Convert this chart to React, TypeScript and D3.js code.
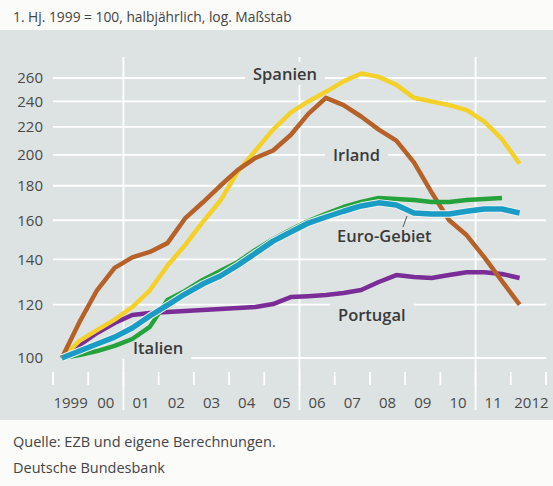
import React, { useEffect, useRef } from 'react';
import * as d3 from 'd3';

// half-year periods, 1. Hj. 1999 … 1. Hj. 2012
const periods = [
  '1999-1', '1999-2', '2000-1', '2000-2', '2001-1', '2001-2', '2002-1', '2002-2', '2003-1',
  '2003-2', '2004-1', '2004-2', '2005-1', '2005-2', '2006-1', '2006-2', '2007-1', '2007-2',
  '2008-1', '2008-2', '2009-1', '2009-2', '2010-1', '2010-2', '2011-1', '2011-2', '2012-1'
];

const spanien = [100, 106, 110, 114, 119, 126, 137, 147, 159, 171, 189, 203, 218, 231, 240, 248, 257, 264, 261, 254, 243, 240, 237, 233, 224, 211, 194];
const irland = [100, 113, 126, 136, 141, 143.6, 148, 161, 170, 180, 190, 198, 203, 214, 230, 243, 237, 228, 218, 210, 195, 176, 160, 152, 141, 130, 120];
const euroGebiet = [100, 102.4, 104.9, 107.4, 110.8, 115.4, 119.8, 124.4, 128.7, 132.3, 137.3, 143, 149, 153.7, 158.5, 161.8, 165, 168, 169.8, 168.6, 164, 163.5, 163.5, 165, 166.3, 166.3, 164];
const italien = [100, 101, 102.4, 104.2, 106.7, 111.2, 121.9, 125.7, 130.5, 134.6, 138.8, 144.6, 150, 154.9, 159.6, 163.5, 167.4, 170.3, 172.6, 172, 171.4, 170.3, 170.3, 171.4, 172, 172.6];
const portugal = [100, 104.5, 108.9, 112.7, 115.8, 116.6, 117, 117.4, 117.8, 118.2, 118.6, 119, 120.2, 123.1, 123.5, 124, 124.8, 126.1, 129.6, 132.7, 131.8, 131.4, 132.7, 134, 134, 133.2, 131.4];

const yTicks = [100, 120, 140, 160, 180, 200, 220, 240, 260];
const xLabels = ['1999', '00', '01', '02', '03', '04', '05', '06', '07', '08', '09', '10', '11', '2012'];

const series = [
  { name: 'Portugal', values: portugal, color: '#7a2d96', width: 4.5 },
  { name: 'Spanien', values: spanien, color: '#f4d12a', width: 4.5 },
  { name: 'Irland', values: irland, color: '#b6602a', width: 4.5 },
  { name: 'Italien', values: italien, color: '#25a23c', width: 4.5 },
  { name: 'Euro-Gebiet', values: euroGebiet, color: '#1b9cc4', width: 5.5 }
];

const labels = [
  { text: 'Spanien', x: 253, y: 74, padL: 8 },
  { text: 'Irland', x: 333, y: 155, padL: 8 },
  { text: 'Euro-Gebiet', x: 337, y: 236, padL: 8 },
  { text: 'Portugal', x: 338, y: 315, padL: 8 },
  { text: 'Italien', x: 133, y: 348, padL: 80 }
];

const W = 553;
const H = 486;
const panelColor = '#dde3e2';
const font = '"Open Sans", "Noto Sans", sans-serif';

const App: React.FC = () => {
  const svgRef = useRef<SVGSVGElement>(null);

  useEffect(() => {
    if (!svgRef.current) return;
    const svg = d3.select(svgRef.current);
    svg.selectAll('*').remove();

    const x = d3.scaleLinear().domain([1999, 2013]).range([53, 546]);
    const y = d3.scaleLog().domain([100, 260]).range([358, 78]);
    const px = (p: string) => {
      const [yr, h] = p.split('-').map(Number);
      return x(yr + (h === 1 ? 0.25 : 0.75));
    };

    svg.append('rect').attr('width', W).attr('height', H).attr('fill', '#fbfbfa');
    svg.append('rect').attr('x', 0).attr('y', 30).attr('width', W).attr('height', 390).attr('fill', panelColor);

    // title
    svg.append('text')
      .attr('x', 13).attr('y', 22)
      .style('font-family', font).style('font-size', '13.8px').attr('fill', '#444')
      .text('1. Hj. 1999 = 100, halbjährlich, log. Maßstab');

    // horizontal grid
    svg.append('g').selectAll('line').data(yTicks).join('line')
      .attr('x1', 53).attr('x2', 546)
      .attr('y1', d => y(d)).attr('y2', d => y(d))
      .attr('stroke', '#fff').attr('stroke-width', 1.8);

    // vertical lines every five years
    svg.append('g').selectAll('line').data([2001, 2006, 2011]).join('line')
      .attr('x1', d => x(d)).attr('x2', d => x(d))
      .attr('y1', 57).attr('y2', 410)
      .attr('stroke', '#fff').attr('stroke-width', 1.8);

    // year ticks
    svg.append('g').selectAll('line').data(d3.range(1999, 2014)).join('line')
      .attr('x1', d => x(d)).attr('x2', d => x(d))
      .attr('y1', 372).attr('y2', 385)
      .attr('stroke', '#fff').attr('stroke-width', 1.8);

    // y labels
    svg.append('g').selectAll('text').data(yTicks).join('text')
      .attr('x', 43).attr('y', d => y(d)).attr('dy', '0.36em')
      .attr('text-anchor', 'end')
      .style('font-family', font).style('font-size', '15px').attr('fill', '#4a4a4a')
      .text(d => d);

    // x labels
    svg.append('g').selectAll('text').data(xLabels).join('text')
      .attr('x', (d, i) => x(1999 + i + 0.5) + (i === xLabels.length - 1 ? 3 : 0))
      .attr('y', 403).attr('dy', '0.36em')
      .attr('text-anchor', 'middle')
      .style('font-family', font).style('font-size', '15px').attr('fill', '#4a4a4a')
      .text(d => d);

    // series labels, masking the gridlines behind them
    const lg = svg.append('g');
    labels.forEach(l => {
      const t = lg.append('text')
        .attr('x', l.x).attr('y', l.y).attr('dy', '0.36em')
        .style('font-family', font).style('font-size', '16.5px').style('font-weight', 600)
        .attr('fill', '#3a3a3a')
        .text(l.text);
      const bb = (t.node() as SVGTextElement).getBBox();
      lg.insert('rect', 'text')
        .attr('x', bb.x - l.padL).attr('y', bb.y).attr('width', bb.width + l.padL + 8).attr('height', bb.height)
        .attr('fill', panelColor);
    });

    // leader line for Euro-Gebiet
    svg.append('line')
      .attr('x1', 403).attr('y1', 227).attr('x2', 407).attr('y2', 216)
      .attr('stroke', '#555').attr('stroke-width', 1);

    const line = d3.line<number>()
      .x((d, i) => px(periods[i]))
      .y(d => y(d))
      .curve(d3.curveLinear);

    const lines = svg.append('g');
    series.forEach(s => {
      if (s.name === 'Euro-Gebiet') {
        lines.append('path')
          .attr('d', line(s.values))
          .attr('fill', 'none').attr('stroke', '#eef2f1')
          .attr('stroke-width', s.width + 2)
          .attr('stroke-linejoin', 'round');
      }
      lines.append('path')
        .attr('d', line(s.values))
        .attr('fill', 'none')
        .attr('stroke', s.color)
        .attr('stroke-width', s.width)
        .attr('stroke-linejoin', 'round')
        .attr('stroke-linecap', 'butt');
    });

    // footer
    svg.append('text')
      .attr('x', 13).attr('y', 447)
      .style('font-family', font).style('font-size', '14.5px').attr('fill', '#444')
      .text('Quelle: EZB und eigene Berechnungen.');
    svg.append('text')
      .attr('x', 13).attr('y', 473)
      .style('font-family', font).style('font-size', '14.5px').attr('fill', '#444')
      .text('Deutsche Bundesbank');
  }, []);

  return (
    <svg
      ref={svgRef}
      width={W}
      height={H}
      style={{ position: 'absolute', left: 0, top: 0 }}
    />
  );
};

export default App;
